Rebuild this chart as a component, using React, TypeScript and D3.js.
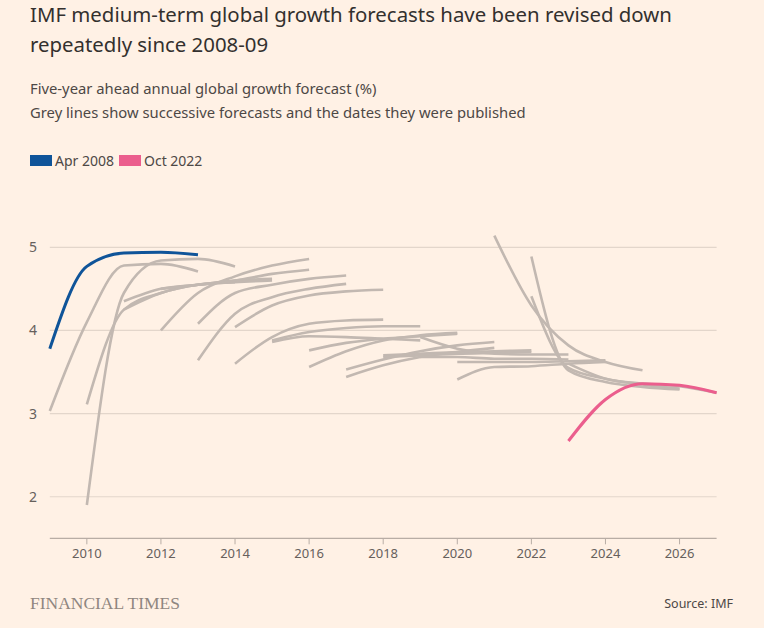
import React from 'react';
import * as d3 from 'd3';

// IMF WEO vintages: each forecast shows year+1 .. year+5
const apr2008 = [3.78, 4.77, 4.93, 4.94, 4.91];
const oct2022 = [2.67, 3.17, 3.36, 3.34, 3.25];

const greyStartYears = [
    2009, 2010, 2010, 2011, 2011, 2012, 2012, 2013, 2013, 2014, 2014,
    2015, 2015, 2016, 2016, 2017, 2017, 2018, 2018, 2019, 2019, 2020, 2020,
    2021, 2022, 2022, 2023,
];

const greyForecasts: number[][] = [
    [3.03, 4.1, 4.78, 4.8, 4.71],    // Oct 2008
    [1.9, 4.45, 4.84, 4.86, 4.77],   // Apr 2009
    [3.11, 4.25, 4.45, 4.55, 4.58],  // Oct 2009
    [4.35, 4.5, 4.55, 4.6, 4.62],    // Apr 2010
    [4.25, 4.45, 4.55, 4.58, 4.6],   // Oct 2010
    [4.5, 4.55, 4.6, 4.68, 4.73],    // Apr 2011
    [4.0, 4.45, 4.65, 4.78, 4.86],   // Oct 2011
    [4.08, 4.45, 4.55, 4.62, 4.66],  // Apr 2012
    [3.64, 4.2, 4.4, 4.5, 4.56],     // Oct 2012
    [4.04, 4.3, 4.42, 4.47, 4.49],   // Apr 2013
    [3.6, 3.92, 4.08, 4.12, 4.13],   // Oct 2013
    [3.88, 3.98, 4.03, 4.05, 4.05],  // Apr 2014
    [3.86, 3.93, 3.92, 3.9, 3.88],   // Oct 2014
    [3.76, 3.85, 3.9, 3.93, 3.96],   // Apr 2015
    [3.56, 3.75, 3.88, 3.94, 3.97],  // Oct 2015
    [3.53, 3.65, 3.75, 3.82, 3.86],  // Apr 2016
    [3.44, 3.58, 3.68, 3.74, 3.79],  // Oct 2016
    [3.7, 3.72, 3.74, 3.75, 3.76],   // Apr 2017
    [3.68, 3.7, 3.72, 3.73, 3.74],   // Oct 2017
    [3.92, 3.78, 3.72, 3.71, 3.71],  // Apr 2018
    [3.68, 3.68, 3.66, 3.66, 3.65],  // Oct 2018
    [3.62, 3.62, 3.62, 3.63, 3.64],  // Apr 2019
    [3.41, 3.56, 3.57, 3.6, 3.62],   // Oct 2019
    [5.14, 4.3, 3.82, 3.62, 3.52],   // Oct 2020
    [4.41, 3.55, 3.42, 3.35, 3.3],   // Apr 2021
    [4.89, 3.52, 3.38, 3.32, 3.29],  // Oct 2021
    [3.6, 3.42, 3.36, 3.33, 3.25],   // Apr 2022
];

const yTicks = [2, 3, 4, 5];
const xTicks = [2010, 2012, 2014, 2016, 2018, 2020, 2022, 2024, 2026];

const legendItems = [
    { label: 'Apr 2008', color: '#0F5499' },
    { label: 'Oct 2022', color: '#EB5E8D' },
];

const FONT = "'Noto Sans', 'Open Sans', sans-serif";

const App: React.FC = () => {
    const width = 764;
    const height = 628;

    const x = d3.scaleLinear().domain([2009, 2027]).range([49.8, 716.6]);
    const y = d3.scaleLinear().domain([1.5, 5.5]).range([538.3, 205.7]);

    const toPoints = (start: number, vals: number[]) =>
        vals.map((v, i) => ({ year: start + i, value: v }));

    const line = d3.line<{ year: number; value: number }>()
        .x(d => x(d.year))
        .y(d => y(d.value))
        .curve(d3.curveMonotoneX);

    const axisY = y(1.5);

    return (
        <div style={{ position: 'fixed', left: 0, top: 0 }}>
            <svg width={width} height={height} style={{ display: 'block', background: '#FFF1E5' }}>
                <rect width={width} height={height} fill="#FFF1E5" />
                <text x={30} y={22} fontFamily={FONT} fontSize={20.4} fill="#33302E">
                    IMF medium-term global growth forecasts have been revised down
                </text>
                <text x={30} y={52} fontFamily={FONT} fontSize={20.4} fill="#33302E">
                    repeatedly since 2008-09
                </text>
                <text x={30} y={94} fontFamily={FONT} fontSize={14.8} fill="#4D4845">
                    Five-year ahead annual global growth forecast (%)
                </text>
                <text x={30} y={118} fontFamily={FONT} fontSize={14.8} fill="#4D4845">
                    Grey lines show successive forecasts and the dates they were published
                </text>

                {legendItems.map((item, i) => (
                    <g key={item.label} transform={`translate(${30 + i * 89},155)`}>
                        <rect width={22} height={11} fill={item.color} />
                        <text x={25} y={10.5} fontFamily={FONT} fontSize={14} fill="#4D4845">
                            {item.label}
                        </text>
                    </g>
                ))}

                {yTicks.map(t => (
                    <g key={t}>
                        <line x1={x(2009)} x2={x(2027)} y1={y(t)} y2={y(t)} stroke="#E3D6CB" strokeWidth={1.2} />
                        <text x={33} y={y(t) + 5} textAnchor="middle" fontFamily={FONT} fontSize={14} fill="#66605C">
                            {t}
                        </text>
                    </g>
                ))}

                {greyForecasts.map((vals, i) => (
                    <path
                        key={i}
                        d={line(toPoints(greyStartYears[i], vals)) || ''}
                        fill="none"
                        stroke="#C2B8B1"
                        strokeWidth={2.6}
                    />
                ))}

                <path d={line(toPoints(2009, apr2008)) || ''} fill="none" stroke="#0F5499" strokeWidth={3} />
                <path d={line(toPoints(2023, oct2022)) || ''} fill="none" stroke="#EB5E8D" strokeWidth={3} />

                <line x1={x(2009)} x2={x(2027)} y1={axisY} y2={axisY} stroke="#B8ADA5" strokeWidth={1.3} />
                {xTicks.map(t => (
                    <g key={t}>
                        <line x1={x(t)} x2={x(t)} y1={axisY} y2={axisY + 6} stroke="#B8ADA5" strokeWidth={1} />
                        <text x={x(t)} y={axisY + 20} textAnchor="middle" fontFamily={FONT} fontSize={13} fill="#66605C">
                            {t}
                        </text>
                    </g>
                ))}

                <text x={30} y={609} fontFamily="'Liberation Serif', 'DejaVu Serif', serif" fontSize={17}
                    fill="#8F8680" textLength={150} lengthAdjust="spacingAndGlyphs">
                    FINANCIAL TIMES
                </text>
                <text x={733} y={608} textAnchor="end" fontFamily={FONT} fontSize={12.5} fill="#4D4845">
                    Source: IMF
                </text>
            </svg>
        </div>
    );
};

export default App;
